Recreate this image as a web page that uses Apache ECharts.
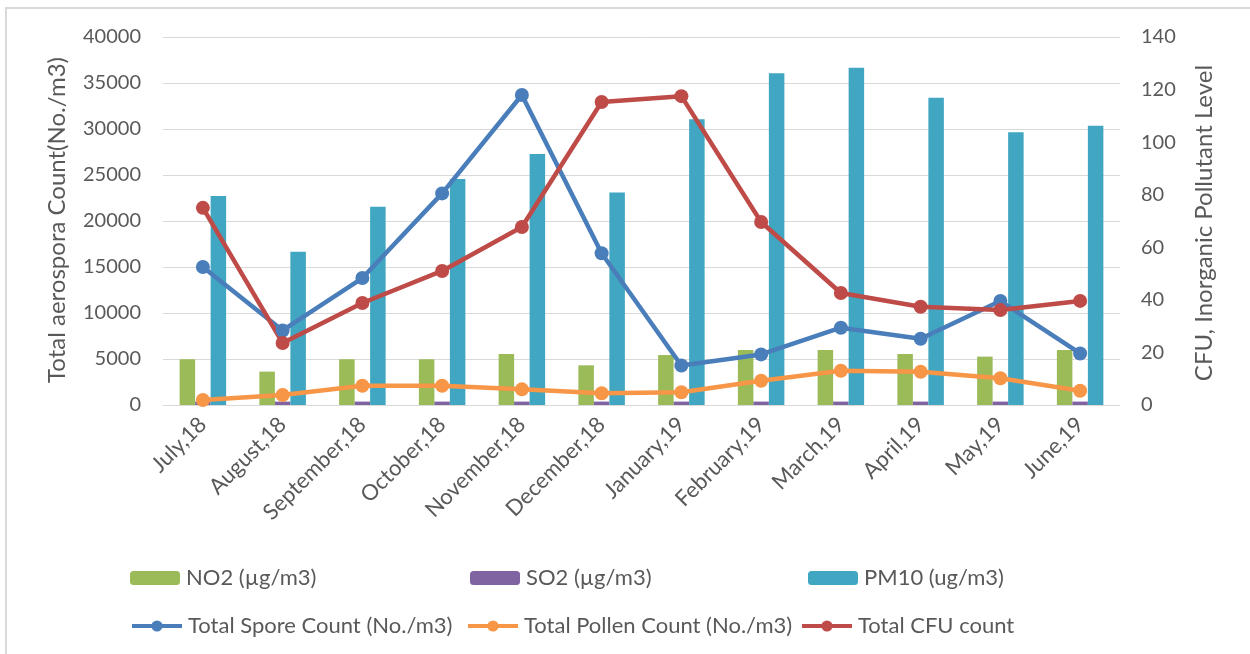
<!DOCTYPE html>
<html>
<head>
<meta charset="utf-8">
<script src="https://cdn.jsdelivr.net/npm/echarts@6/dist/echarts.min.js"></script>
<style>
html,body{margin:0;padding:0;background:#fff;}
#chart{width:1250px;height:654px;}
</style>
</head>
<body>
<div id="chart"></div>
<script>
const categories = ['July,18','August,18','September,18','October,18','November,18','December,18','January,19','February,19','March,19','April,19','May,19','June,19'];
const no2 = [17.4,12.7,17.4,17.4,19.4,15.1,19.0,20.9,20.9,19.4,18.4,20.9];
const so2 = [1.3,1.3,1.3,1.3,1.3,1.3,1.3,1.3,1.3,1.3,1.3,1.3];
const pm10 = [79.5,58.3,75.4,86.0,95.5,80.8,108.7,126.2,128.3,116.9,103.8,106.2];
const spore = [15000,8100,13800,23000,33700,16500,4300,5500,8400,7200,11300,5600];
const pollen = [540,1090,2100,2100,1700,1270,1380,2640,3730,3620,2900,1550];
const cfu = [75,23.6,38.8,51,67.7,115.3,117.5,69.6,42.6,37.4,36.1,39.6];
const leftTicks = {min:0,max:40000,interval:5000};
const rightTicks = {min:0,max:140,interval:20};

const FONT = 'Lato';
const GRAY = '#595959';
const chart = echarts.init(document.getElementById('chart'));

function legendAt(name, left, top){
  return {
    data:[name], left:left, top:top, padding:0, itemWidth:50, itemHeight:14, itemGap:0,
    textStyle:{fontFamily:FONT,fontSize:22,color:GRAY,padding:[0,0,0,1]},
    lineStyle:{width:4},
    selectedMode:false
  };
}

chart.setOption({
  animation:false,
  backgroundColor:'#fff',
  graphic:[
    {type:'rect',shape:{x:6,y:8,width:1300,height:700},style:{fill:'none',stroke:'#D9D9D9',lineWidth:2},silent:true},
    {type:'text',x:57,y:220,rotation:Math.PI/2,style:{text:'Total aerospora Count(No./m3)',fill:GRAY,font:'24px '+FONT,textAlign:'center',textVerticalAlign:'middle'}},
    {type:'text',x:1204,y:223,rotation:Math.PI/2,style:{text:'CFU, Inorganic Pollutant Level',fill:GRAY,font:'24px '+FONT,textAlign:'center',textVerticalAlign:'middle'}}
  ],
  grid:{left:163,right:130,top:37,bottom:249,containLabel:false},
  legend:[
    legendAt('NO2 (µg/m3)',130,567),
    legendAt('SO2 (µg/m3)',470,567),
    legendAt('PM10 (ug/m3)',808,567),
    legendAt('Total Spore Count (No./m3)',130,615),
    legendAt('Total Pollen Count (No./m3)',466,615),
    legendAt('Total CFU count',800,615)
  ],
  xAxis:{
    type:'category', data:categories,
    axisLine:{show:true,lineStyle:{color:'#D9D9D9',width:1}},
    axisTick:{show:false},
    axisLabel:{rotate:45,interval:0,margin:16,fontFamily:FONT,fontSize:22,color:GRAY}
  },
  yAxis:[
    {type:'value',min:leftTicks.min,max:leftTicks.max,interval:leftTicks.interval,
     axisLine:{show:false},axisTick:{show:false},
     splitLine:{show:true,lineStyle:{color:'#D9D9D9',width:1}},
     axisLabel:{margin:22,fontFamily:FONT,fontSize:20,color:GRAY,formatter:function(v){return String(v);}}},
    {type:'value',min:rightTicks.min,max:rightTicks.max,interval:rightTicks.interval,position:'right',
     axisLine:{show:false},axisTick:{show:false},splitLine:{show:false},
     axisLabel:{margin:21,fontFamily:FONT,fontSize:20,color:GRAY,formatter:function(v){return String(v);}}}
  ],
  series:[
    {name:'NO2 (µg/m3)',type:'bar',yAxisIndex:1,data:no2,barWidth:15.5,barGap:'0%',itemStyle:{color:'#9BBB59'}},
    {name:'SO2 (µg/m3)',type:'bar',yAxisIndex:1,data:so2,barWidth:15.5,barGap:'0%',itemStyle:{color:'#8064A2'}},
    {name:'PM10 (ug/m3)',type:'bar',yAxisIndex:1,data:pm10,barWidth:15.5,barGap:'0%',itemStyle:{color:'#41A6C1'}},
    {name:'Total Spore Count (No./m3)',type:'line',yAxisIndex:0,data:spore,symbol:'circle',symbolSize:14,
     lineStyle:{width:4.5,color:'#4A7EBB'},itemStyle:{color:'#4A7EBB'},z:5},
    {name:'Total Pollen Count (No./m3)',type:'line',yAxisIndex:0,data:pollen,symbol:'circle',symbolSize:14,
     lineStyle:{width:4.5,color:'#F79646'},itemStyle:{color:'#F79646'},z:5},
    {name:'Total CFU count',type:'line',yAxisIndex:1,data:cfu,symbol:'circle',symbolSize:14,
     lineStyle:{width:4.5,color:'#BE4B48'},itemStyle:{color:'#BE4B48'},z:5}
  ]
});
</script>
</body>
</html>
